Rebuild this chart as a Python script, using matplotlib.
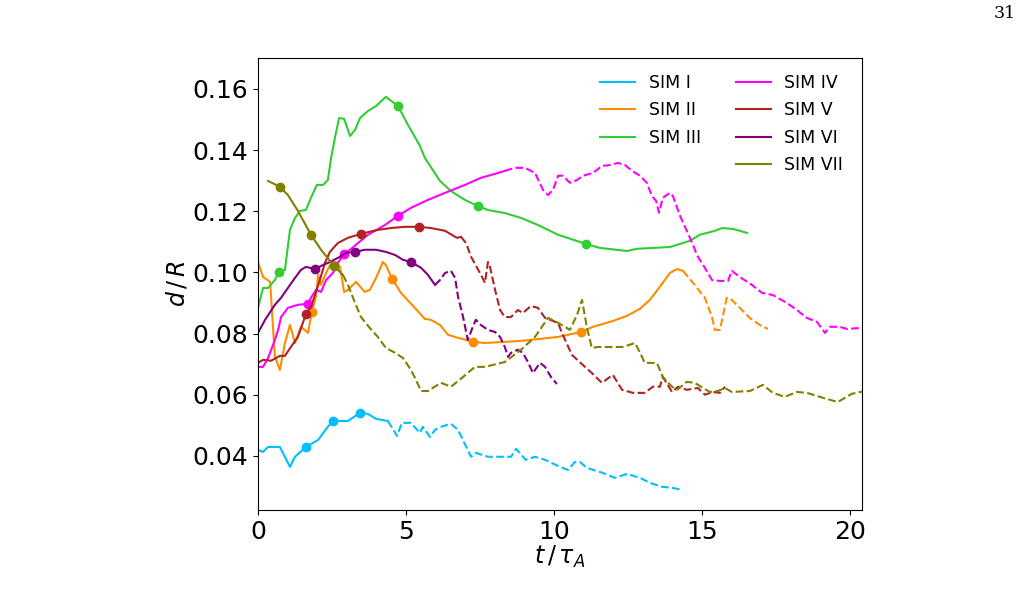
import numpy as np
import matplotlib
matplotlib.use("Agg")
import matplotlib.pyplot as plt
from matplotlib.lines import Line2D

labels = ["SIM I", "SIM II", "SIM III", "SIM IV", "SIM V", "SIM VI", "SIM VII"]
colors = ["#00BFFF", "#FF8C00", "#32CD32", "#FF00FF", "#B22222", "#800080", "#808000"]

t1 = [0, 0.17, 0.34, 0.74, 1.08, 1.25, 1.62, 2.03, 2.36, 2.53, 3.04, 3.45, 3.72, 3.99, 4.39,
      4.70, 4.86, 5.17, 5.47, 5.57, 5.81, 5.98, 6.18, 6.52, 6.76, 7.20, 7.36, 7.77, 8.55, 8.72,
      9.05, 9.36, 9.70, 10.14, 10.47, 10.71, 10.88, 11.11, 11.66, 12.06, 12.47, 12.91, 13.24,
      13.65, 14.02, 14.32]
d1 = [0.0419, 0.0413, 0.0429, 0.0429, 0.0364, 0.0397, 0.0429, 0.0452, 0.0495, 0.0514, 0.0514,
      0.0541, 0.0537, 0.0521, 0.0514, 0.0465, 0.0508, 0.0508, 0.0475, 0.0495, 0.0462, 0.0485,
      0.0495, 0.0505, 0.0485, 0.0397, 0.0410, 0.0397, 0.0397, 0.0423, 0.0387, 0.0397, 0.0387,
      0.0367, 0.0354, 0.0380, 0.0380, 0.0361, 0.0344, 0.0328, 0.0341, 0.0328, 0.0312, 0.0299,
      0.0295, 0.0289]

t2 = [0, 0.17, 0.41, 0.57, 0.74, 0.91, 1.08, 1.25, 1.45, 1.69, 1.82, 1.96, 2.03, 2.13, 2.30,
      2.47, 2.64, 2.77, 2.91, 3.04, 3.31, 3.61, 3.78, 3.99, 4.22, 4.32, 4.53, 4.83, 5.30, 5.64,
      5.84, 6.15, 6.42, 6.76, 7.26, 7.67, 8.89, 10.14, 10.91, 11.32, 11.99, 12.47, 12.91, 13.24,
      13.58, 13.92, 14.16, 14.36, 14.70, 15.10, 15.34, 15.44, 15.61, 15.84, 16.01, 16.28, 16.62,
      16.96, 17.23]
d2 = [0.1034, 0.0985, 0.0969, 0.0724, 0.0681, 0.0769, 0.0828, 0.0769, 0.0822, 0.0802, 0.0871,
      0.0920, 0.0992, 0.0959, 0.0998, 0.1031, 0.1034, 0.1018, 0.0936, 0.0943, 0.0969, 0.0936,
      0.0943, 0.0982, 0.1034, 0.1024, 0.0979, 0.0933, 0.0884, 0.0848, 0.0845, 0.0828, 0.0796,
      0.0786, 0.0773, 0.0769, 0.0776, 0.0789, 0.0805, 0.0822, 0.0841, 0.0858, 0.0881, 0.0910,
      0.0953, 0.0998, 0.1011, 0.1005, 0.0966, 0.0917, 0.0854, 0.0812, 0.0812, 0.0917, 0.0910,
      0.0884, 0.0851, 0.0828, 0.0815]

t3 = [0, 0.17, 0.34, 0.57, 0.71, 0.91, 1.08, 1.25, 1.42, 1.62, 1.79, 1.99, 2.20, 2.36, 2.47,
      2.60, 2.74, 2.91, 3.11, 3.28, 3.45, 3.72, 3.99, 4.32, 4.73, 5.07, 5.47, 5.64, 6.15, 6.52,
      6.99, 7.43, 7.77, 8.34, 8.89, 9.46, 10.14, 11.08, 11.55, 12.47, 12.80, 13.92, 14.16, 14.59,
      14.93, 15.17, 15.44, 15.68, 16.05, 16.28, 16.52]
d3 = [0.0884, 0.0949, 0.0949, 0.0975, 0.1002, 0.1008, 0.1139, 0.1178, 0.1201, 0.1204, 0.1244,
      0.1286, 0.1286, 0.1302, 0.1374, 0.1440, 0.1505, 0.1502, 0.1446, 0.1466, 0.1505, 0.1528,
      0.1544, 0.1574, 0.1544, 0.1482, 0.1414, 0.1374, 0.1299, 0.1266, 0.1237, 0.1217, 0.1204,
      0.1194, 0.1178, 0.1155, 0.1123, 0.1093, 0.1080, 0.1070, 0.1077, 0.1083, 0.1090, 0.1103,
      0.1123, 0.1129, 0.1136, 0.1145, 0.1142, 0.1136, 0.1129]

t4 = [0, 0.17, 0.34, 0.57, 0.68, 0.78, 1.01, 1.35, 1.69, 1.79, 1.96, 2.13, 2.30, 2.53, 2.70,
      2.91, 3.11, 3.38, 3.72, 4.29, 4.73, 5.17, 5.74, 6.32, 6.99, 7.53, 8.11, 8.34, 8.68, 9.02,
      9.36, 9.63, 9.80, 9.97, 10.14, 10.30, 10.54, 10.78, 10.98, 11.32, 11.62, 11.89, 12.16,
      12.40, 12.64, 12.91, 13.14, 13.31, 13.45, 13.55, 13.68, 13.92, 14.02, 14.26, 14.49, 14.70,
      14.83, 15.10, 15.34, 15.61, 15.88, 16.01, 16.28, 16.69, 17.03, 17.40, 17.87, 18.21, 18.55,
      18.89, 19.16, 19.32, 19.66, 19.90, 20.34, 20.5]
d4 = [0.0691, 0.0691, 0.0720, 0.0779, 0.0812, 0.0854, 0.0884, 0.0894, 0.0897, 0.0917, 0.0943,
      0.0936, 0.0975, 0.0998, 0.1031, 0.1060, 0.1074, 0.1096, 0.1123, 0.1155, 0.1185, 0.1211,
      0.1237, 0.1260, 0.1286, 0.1309, 0.1325, 0.1332, 0.1342, 0.1342, 0.1325, 0.1270, 0.1253,
      0.1270, 0.1316, 0.1316, 0.1293, 0.1302, 0.1316, 0.1325, 0.1348, 0.1351, 0.1358, 0.1351,
      0.1332, 0.1316, 0.1293, 0.1250, 0.1234, 0.1195, 0.1244, 0.1260, 0.1250, 0.1185, 0.1136,
      0.1090, 0.1057, 0.1015, 0.0975, 0.0972, 0.0972, 0.1005, 0.0985, 0.0959, 0.0933, 0.0926,
      0.0900, 0.0877, 0.0851, 0.0838, 0.0802, 0.0822, 0.0822, 0.0815, 0.0818, 0.0822]

t5 = [0, 0.17, 0.44, 0.74, 0.91, 1.11, 1.35, 1.62, 1.79, 1.96, 2.09, 2.26, 2.43, 2.70, 3.04,
      3.48, 4.05, 4.49, 4.97, 5.44, 5.84, 6.32, 6.72, 6.86, 7.03, 7.20, 7.50, 7.67, 7.77, 7.84,
      8.01, 8.18, 8.34, 8.55, 8.78, 8.95, 9.22, 9.46, 9.70, 9.86, 10.14, 10.27, 10.61, 10.98,
      11.28, 11.62, 11.99, 12.30, 12.67, 13.07, 13.34, 13.58, 13.68, 13.99, 14.19, 14.49, 14.86,
      15.10, 15.37, 15.61, 15.78]
d5 = [0.0704, 0.0714, 0.0711, 0.0727, 0.0727, 0.0756, 0.0789, 0.0864, 0.0887, 0.0936, 0.0975,
      0.1031, 0.1067, 0.1096, 0.1113, 0.1126, 0.1139, 0.1145, 0.1149, 0.1149, 0.1145, 0.1136,
      0.1113, 0.1116, 0.1096, 0.1051, 0.0998, 0.0966, 0.1034, 0.1018, 0.0943, 0.0877, 0.0854,
      0.0854, 0.0877, 0.0867, 0.0890, 0.0884, 0.0851, 0.0845, 0.0835, 0.0802, 0.0730, 0.0697,
      0.0671, 0.0639, 0.0665, 0.0616, 0.0606, 0.0606, 0.0626, 0.0626, 0.0658, 0.0609, 0.0626,
      0.0616, 0.0622, 0.0600, 0.0609, 0.0606, 0.0626]

t6 = [0, 0.24, 0.57, 0.78, 1.01, 1.25, 1.45, 1.62, 1.93, 2.13, 2.43, 2.77, 2.97, 3.28, 3.61,
      3.99, 4.32, 4.63, 4.90, 5.17, 5.51, 5.74, 5.98, 6.15, 6.32, 6.52, 6.66, 6.76, 6.93, 7.09,
      7.26, 7.36, 7.53, 7.77, 8.01, 8.18, 8.34, 8.45, 8.55, 8.78, 8.95, 9.12, 9.29, 9.53, 9.70,
      9.90, 10.10]
d6 = [0.0802, 0.0845, 0.0894, 0.0917, 0.0949, 0.0982, 0.1008, 0.1018, 0.1011, 0.1021, 0.1034,
      0.1051, 0.1064, 0.1067, 0.1074, 0.1074, 0.1067, 0.1057, 0.1041, 0.1034, 0.1015, 0.0992,
      0.0959, 0.0975, 0.0998, 0.1005, 0.0982, 0.0920, 0.0854, 0.0779, 0.0822, 0.0845, 0.0828,
      0.0812, 0.0805, 0.0789, 0.0756, 0.0724, 0.0737, 0.0747, 0.0737, 0.0707, 0.0671, 0.0704,
      0.0691, 0.0658, 0.0635]

t7 = [0.34, 0.74, 1.01, 1.35, 1.79, 2.13, 2.57, 2.87, 3.04, 3.28, 3.48, 3.78, 4.05, 4.32, 4.63,
      4.90, 5.17, 5.34, 5.51, 5.74, 6.18, 6.52, 6.93, 7.33, 7.67, 8.34, 8.89, 9.36, 9.80, 10.14,
      10.54, 10.78, 10.95, 11.11, 11.28, 11.49, 11.89, 12.33, 12.74, 12.91, 13.07, 13.48, 13.68,
      13.99, 14.16, 14.49, 14.76, 15.03, 15.27, 15.54, 15.78, 16.01, 16.62, 17.06, 17.40, 17.80,
      18.21, 18.55, 19.09, 19.59, 20.07, 20.5]
d7 = [0.1299, 0.1280, 0.1253, 0.1201, 0.1123, 0.1074, 0.1021, 0.0992, 0.0959, 0.0900, 0.0854,
      0.0818, 0.0789, 0.0753, 0.0737, 0.0720, 0.0681, 0.0648, 0.0612, 0.0612, 0.0639, 0.0626,
      0.0658, 0.0691, 0.0691, 0.0707, 0.0747, 0.0789, 0.0851, 0.0835, 0.0812, 0.0861, 0.0910,
      0.0822, 0.0753, 0.0756, 0.0756, 0.0756, 0.0769, 0.0737, 0.0704, 0.0704, 0.0658, 0.0626,
      0.0616, 0.0642, 0.0639, 0.0622, 0.0609, 0.0612, 0.0622, 0.0609, 0.0612, 0.0632, 0.0606,
      0.0593, 0.0609, 0.0606, 0.0590, 0.0576, 0.0603, 0.0612]

# time where each curve switches from solid to dashed (None = all solid)
t_dash = [4.39, 14.36, None, 8.34, 6.86, 5.98, 2.87]

# marker times
marks = [
    [1.62, 2.53, 3.45],
    [1.82, 4.53, 7.26, 10.91],
    [0.71, 4.73, 7.43, 11.08],
    [1.69, 2.91, 4.73],
    [1.62, 3.48, 5.44],
    [1.93, 3.28, 5.17],
    [0.74, 1.79, 2.57],
]

times = [t1, t2, t3, t4, t5, t6, t7]
values = [d1, d2, d3, d4, d5, d6, d7]

fig = plt.figure(figsize=(10.28, 6.14), dpi=100)
ax = fig.add_axes([258 / 1028, 1 - 510 / 614, (862 - 258) / 1028, (510 - 58) / 614])

handles = []
for lab, col, t, d, td, mk in zip(labels, colors, times, values, t_dash, marks):
    t = np.array(t)
    d = np.array(d)
    if td is None:
        h, = ax.plot(t, d, color=col, lw=1.5, label=lab)
    else:
        s = t <= td
        h, = ax.plot(t[s], d[s], color=col, lw=1.5, label=lab)
        s2 = t >= td
        ax.plot(t[s2], d[s2], color=col, lw=1.5, ls="--")
    handles.append(h)
    mk = np.array(mk)
    ax.plot(mk, np.interp(mk, t, d), "o", color=col, ms=6, lw=0)

ax.set_xlim(0, 20.41)
ax.set_ylim(0.0223, 0.1701)
ax.set_xticks([0, 5, 10, 15, 20])
ax.set_yticks([0.04, 0.06, 0.08, 0.10, 0.12, 0.14, 0.16])
ax.tick_params(labelsize=18)
ax.set_xlabel(r"$t\,/\,\tau_A$", fontsize=17, labelpad=0)
ax.set_ylabel(r"$d\,/\,R$", fontsize=17, labelpad=2)

blank = Line2D([], [], color="none")
leg_h = handles[:3] + [blank] + handles[3:]
leg_l = labels[:3] + [""] + labels[3:]
ax.legend(leg_h, leg_l, ncol=2, loc="upper right", frameon=False, fontsize=12.5,
          handlelength=2.0, handletextpad=0.8, columnspacing=2.0, labelspacing=0.55,
          bbox_to_anchor=(0.995, 1.0))

fig.text(1005 / 1028, 1 - 14 / 614, "31", family="DejaVu Serif", fontsize=12.5,
         ha="center", va="center")

fig.savefig("out.png", dpi=100)
